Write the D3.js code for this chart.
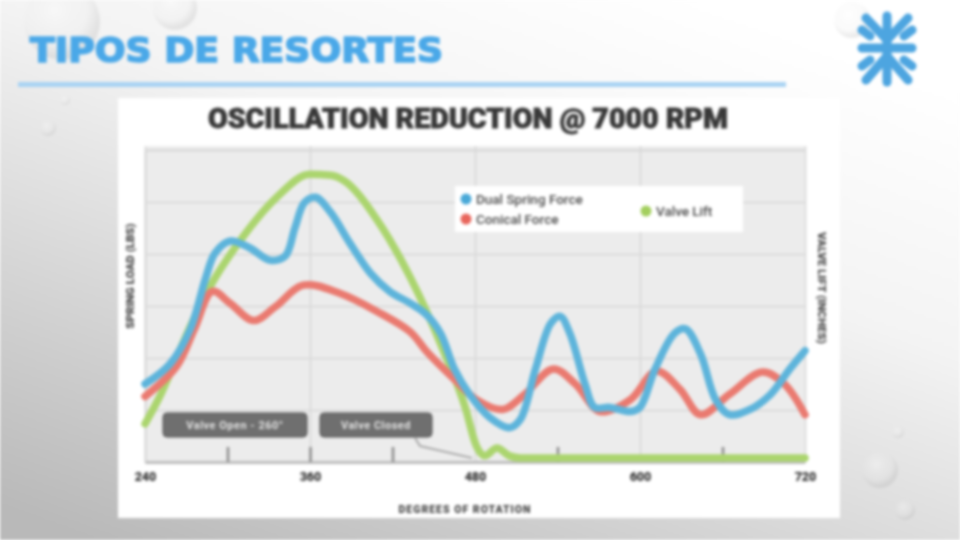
<!DOCTYPE html>
<html lang="es">
<head>
<meta charset="UTF-8">
<title>Tipos de resortes</title>
<script src="https://d3js.org/d3.v7.min.js"></script>
<style>
  html, body { margin: 0; padding: 0; background: #fff; }
  svg { display: block; filter: blur(1.4px); }
</style>
</head>
<body>
<svg id="slide" width="960" height="540"></svg>
<script>
// ---- data ----
const degrees = [240, 360, 480, 600, 720];
const minorDegrees = [300, 420, 540, 660];

// dual spring force, lbs
const dualDeg = [240, 258, 273, 284, 291, 302, 316, 331, 342, 349, 356, 364, 375, 389, 404, 418, 433, 444, 455, 465, 476, 491, 505, 513, 524, 535, 542, 549, 560, 567, 578, 593, 600, 611, 625, 633, 644, 655, 665, 680, 695, 709, 720];
const dualLbs = [150, 188, 256, 353, 402, 425, 412, 388, 396, 450, 499, 509, 480, 421, 363, 328, 305, 285, 247, 179, 130, 85, 66, 82, 179, 266, 280, 247, 150, 105, 105, 97, 105, 179, 247, 256, 208, 120, 91, 101, 130, 179, 214];

// conical force, lbs
const conDeg = [240, 263, 276, 289, 302, 319, 335, 355, 382, 409, 433, 445, 465, 481, 500, 516, 537, 553, 571, 593, 612, 629, 644, 665, 689, 705, 720];
const conLbs = [126, 184, 256, 328, 305, 272, 299, 340, 324, 289, 250, 212, 159, 120, 101, 130, 179, 150, 97, 120, 175, 140, 91, 130, 173, 150, 91];

// valve lift, inches
const liftDeg = [240, 252, 263, 276, 287, 311, 336, 360, 375, 384, 409, 433, 457, 473, 481, 487, 496, 505, 513, 600, 720];
const liftIn = [0.07, 0.13, 0.198, 0.276, 0.334, 0.431, 0.509, 0.553, 0.551, 0.542, 0.464, 0.353, 0.212, 0.101, 0.027, 0.008, 0.023, 0.008, 0.004, 0.004, 0.004];

const legendItems = ["Dual Spring Force", "Conical Force", "Valve Lift"];
const notes = ["Valve Open - 260°", "Valve Closed"];

// ---- drawing ----
const svg = d3.select("#slide");
const defs = svg.append("defs");

const bg = defs.append("linearGradient").attr("id", "bg")
  .attr("x1", 0.75).attr("y1", 0).attr("x2", 0.1).attr("y2", 1);
bg.append("stop").attr("offset", 0).attr("stop-color", "#ffffff");
bg.append("stop").attr("offset", 0.35).attr("stop-color", "#f3f3f3");
bg.append("stop").attr("offset", 1).attr("stop-color", "#b9b9b9");

const drop = defs.append("radialGradient").attr("id", "drop")
  .attr("cx", 0.4).attr("cy", 0.35).attr("r", 0.6);
drop.append("stop").attr("offset", 0).attr("stop-color", "#ffffff").attr("stop-opacity", 0.9);
drop.append("stop").attr("offset", 0.7).attr("stop-color", "#e6e6e6").attr("stop-opacity", 0.4);
drop.append("stop").attr("offset", 1).attr("stop-color", "#9a9a9a").attr("stop-opacity", 0.5);

svg.append("rect").attr("width", 960).attr("height", 540).attr("fill", "url(#bg)");

// water drops
const drops = [[62, 22, 38], [175, 8, 22], [48, 128, 8], [65, 100, 5], [880, 470, 18], [898, 432, 6], [852, 20, 18], [905, 510, 10]];
svg.selectAll("circle.drop").data(drops).enter().append("circle")
  .attr("class", "drop")
  .attr("cx", d => d[0]).attr("cy", d => d[1]).attr("r", d => d[2])
  .attr("fill", "url(#drop)").attr("opacity", 0.4);

// slide title + rule
svg.append("text")
  .attr("x", 30).attr("y", 62)
  .attr("textLength", 413).attr("lengthAdjust", "spacingAndGlyphs")
  .attr("font-family", "DejaVu Sans").attr("font-weight", "bold")
  .attr("font-size", 33).attr("fill", "#4aa8e8")
  .attr("stroke", "#4aa8e8").attr("stroke-width", 1.6)
  .text("TIPOS DE RESORTES");
svg.append("rect").attr("x", 18).attr("y", 82).attr("width", 768).attr("height", 5)
  .attr("fill", "#a9d3f3");

// logo
const logo = svg.append("g").attr("stroke", "#4da5e0").attr("stroke-width", 9)
  .attr("stroke-linecap", "round").attr("fill", "none");
[[887, 16, 887, 82], [862, 48, 912, 48], [866, 18, 887, 40], [908, 18, 887, 40],
 [866, 80, 887, 56], [908, 80, 887, 56], [862, 30, 870, 36], [912, 30, 904, 36],
 [862, 66, 870, 60], [912, 66, 904, 60]].forEach(s => {
  logo.append("line").attr("x1", s[0]).attr("y1", s[1]).attr("x2", s[2]).attr("y2", s[3]);
});

// chart panel
svg.append("rect").attr("x", 118).attr("y", 98).attr("width", 722).attr("height", 420)
  .attr("fill", "#ffffff");

svg.append("text")
  .attr("x", 468).attr("y", 128).attr("text-anchor", "middle")
  .attr("textLength", 520).attr("lengthAdjust", "spacingAndGlyphs")
  .attr("font-family", "Roboto").attr("font-weight", 900)
  .attr("font-size", 27).attr("fill", "#383838")
  .attr("stroke", "#383838").attr("stroke-width", 0.8)
  .text("OSCILLATION REDUCTION @ 7000 RPM");

const margin = { left: 145, right: 805, top: 150, bottom: 462 };
const x = d3.scaleLinear().domain([240, 720]).range([margin.left, margin.right]);
const y = d3.scaleLinear().domain([0, 600]).range([margin.bottom, margin.top]);
const yLift = d3.scaleLinear().domain([0, 0.6]).range([margin.bottom - 2, margin.top]);

const plot = svg.append("g");
plot.append("rect")
  .attr("x", margin.left).attr("y", margin.top - 4)
  .attr("width", margin.right - margin.left).attr("height", margin.bottom - margin.top + 4)
  .attr("fill", "#ececec");

// grid
plot.append("g")
  .attr("transform", `translate(0,${margin.bottom})`)
  .call(d3.axisBottom(x).tickValues(degrees).tickSize(-(margin.bottom - margin.top + 4)).tickFormat(""))
  .call(g => g.select(".domain").remove())
  .call(g => g.selectAll("line").attr("stroke", "#d6d6d6").attr("stroke-width", 1.5));
plot.append("g")
  .attr("transform", `translate(${margin.left},0)`)
  .call(d3.axisLeft(y).tickValues(d3.range(100, 601, 100)).tickSize(-(margin.right - margin.left)).tickFormat(""))
  .call(g => g.select(".domain").attr("stroke", "#d0d0d0").attr("stroke-width", 1.5))
  .call(g => g.selectAll("line").attr("stroke", "#d6d6d6").attr("stroke-width", 1.5));

// x axis
const xAxis = plot.append("g")
  .attr("transform", `translate(0,${margin.bottom})`)
  .call(d3.axisBottom(x).tickValues(degrees).tickSize(0).tickPadding(10).tickFormat(d3.format("d")));
xAxis.select(".domain").attr("stroke", "#bdbdbd").attr("stroke-width", 3);
xAxis.selectAll("text")
  .attr("font-family", "Roboto").attr("font-weight", 900).attr("font-size", 12.5).attr("fill", "#333");
plot.append("g")
  .attr("transform", `translate(0,${margin.bottom})`)
  .call(d3.axisTop(x).tickValues(minorDegrees.concat([360])).tickSize(15).tickFormat(""))
  .call(g => g.select(".domain").remove())
  .call(g => g.selectAll("line").attr("stroke", "#8a8a8a").attr("stroke-width", 2.5));

// axis titles
svg.append("text")
  .attr("transform", "translate(134,276) rotate(-90)").attr("text-anchor", "middle")
  .attr("font-family", "Roboto").attr("font-weight", 900).attr("font-size", 11.5)
  .attr("fill", "#444").text("SPRING LOAD (LBS)");
svg.append("text")
  .attr("transform", "translate(818,288) rotate(90)").attr("text-anchor", "middle")
  .attr("font-family", "Roboto").attr("font-weight", 900).attr("font-size", 11.5)
  .attr("fill", "#444").text("VALVE LIFT (INCHES)");
svg.append("text")
  .attr("x", 465).attr("y", 513).attr("text-anchor", "middle")
  .attr("font-family", "Roboto").attr("font-weight", 900).attr("font-size", 10.5)
  .attr("letter-spacing", 1).attr("fill", "#444").text("DEGREES OF ROTATION");

// annotation boxes
const noteBox = [[163, 307], [320, 432]];
notes.forEach((t, i) => {
  const [x0, x1] = noteBox[i];
  plot.append("rect").attr("x", x0).attr("y", 413).attr("width", x1 - x0).attr("height", 24)
    .attr("rx", 4).attr("fill", "#6f6f6f").attr("stroke", "#555").attr("stroke-width", 1);
  plot.append("text").attr("x", (x0 + x1) / 2).attr("y", 429).attr("text-anchor", "middle")
    .attr("font-family", "Roboto").attr("font-weight", "bold").attr("font-size", 11).attr("fill", "#e2e2e2")
    .attr("letter-spacing", 0.5).text(t);
});
plot.append("path").attr("d", "M415,438 L420,446 L472,458")
  .attr("fill", "none").attr("stroke", "#9a9a9a").attr("stroke-width", 1.5);

// series
const series = [
  { deg: liftDeg, val: liftIn, sc: yLift, color: "#abd56e", curve: d3.curveMonotoneX },
  { deg: conDeg, val: conLbs, sc: y, color: "#ea7a70", curve: d3.curveCatmullRom },
  { deg: dualDeg, val: dualLbs, sc: y, color: "#5db4db", curve: d3.curveCatmullRom }
];
series.forEach(s => {
  const line = d3.line().x(d => x(d[0])).y(d => s.sc(d[1])).curve(s.curve);
  plot.append("path")
    .datum(d3.zip(s.deg, s.val))
    .attr("d", line)
    .attr("fill", "none")
    .attr("stroke", s.color)
    .attr("stroke-width", 7.5)
    .attr("stroke-linejoin", "round").attr("stroke-linecap", "round");
});

// legend
const lg = plot.append("g");
lg.append("rect").attr("x", 455).attr("y", 186).attr("width", 288).attr("height", 46).attr("fill", "#fff");
const legPos = [[466, 199], [466, 219], [646, 211]];
const legColors = ["#4aa9d8", "#e8665c", "#a3cf5e"];
legendItems.forEach((t, i) => {
  lg.append("circle").attr("cx", legPos[i][0]).attr("cy", legPos[i][1]).attr("r", 5.5).attr("fill", legColors[i]);
  lg.append("text").attr("x", legPos[i][0] + 10).attr("y", legPos[i][1] + 5)
    .attr("font-family", "Roboto").attr("font-weight", 500).attr("font-size", 13.5).attr("fill", "#4a4a4a").text(t);
});
</script>
</body>
</html>
